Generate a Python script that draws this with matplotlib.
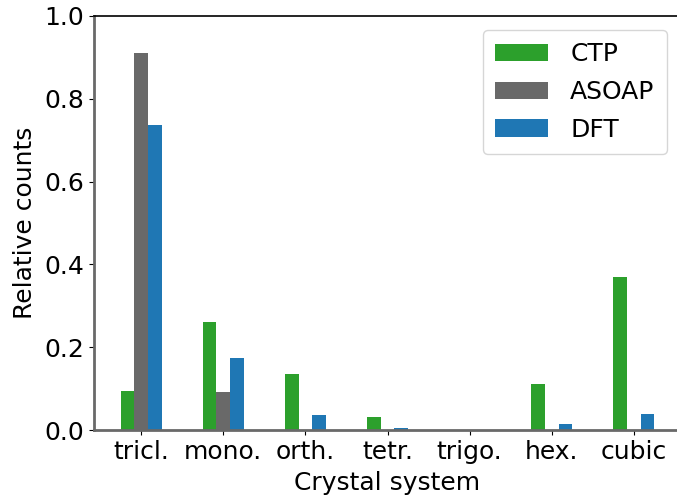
import numpy as np
import matplotlib
matplotlib.use("Agg")
import matplotlib.pyplot as plt

categories = ["tricl.", "mono.", "orth.", "tetr.", "trigo.", "hex.", "cubic"]
ctp = [0.094, 0.261, 0.135, 0.031, 0.001, 0.111, 0.370]
asoap = [0.911, 0.092, 0.0, 0.0, 0.0, 0.0, 0.0]
dft = [0.737, 0.174, 0.036, 0.005, 0.001, 0.014, 0.039]

plt.rcParams["font.family"] = "DejaVu Sans"
plt.rcParams["font.size"] = 18

fig = plt.figure(figsize=(6.77, 4.99), dpi=100)
ax = fig.add_axes([94 / 677, 1 - 430 / 499, (681 - 94) / 677, (430 - 16) / 499])

x = np.arange(len(categories))
w = 1 / 6
ax.bar(x - w, ctp, w, color="#2ca02c", label="CTP")
ax.bar(x, asoap, w, color="dimgray", label="ASOAP")
ax.bar(x + w, dft, w, color="#1f77b4", label="DFT")

ax.set_xticks(x)
ax.set_xticklabels(categories)
ax.set_ylim(0, 1.0)
ax.set_yticks([0.0, 0.2, 0.4, 0.6, 0.8, 1.0])
ax.set_xlabel("Crystal system", labelpad=5)
ax.set_ylabel("Relative counts", labelpad=5)

for side in ("left", "bottom"):
    ax.spines[side].set_color("dimgray")
    ax.spines[side].set_linewidth(2)
ax.spines["top"].set_linewidth(1.2)
ax.spines["right"].set_visible(False)

ax.legend(loc="upper right", handlelength=2.1, handletextpad=0.9,
          borderpad=0.5, labelspacing=0.55, borderaxespad=0,
          bbox_to_anchor=((667 - 94) / 587, (430 - 30) / 414))

fig.savefig("out.png", dpi=100)
